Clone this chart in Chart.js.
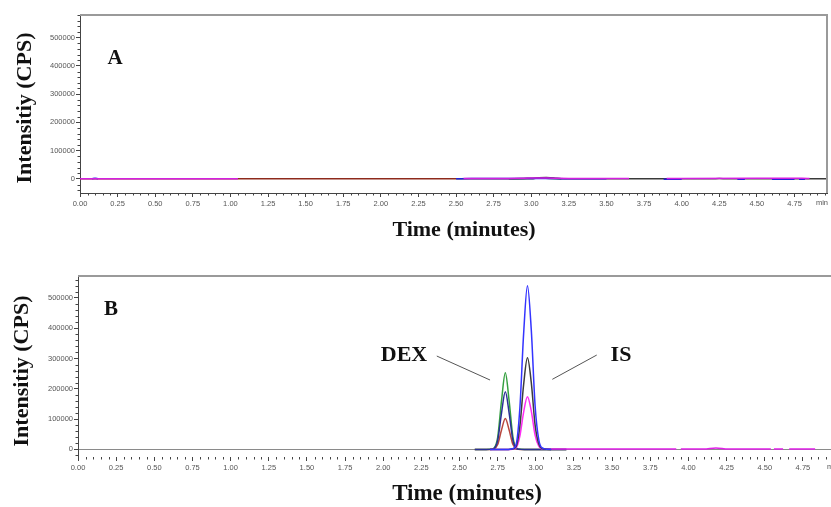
<!DOCTYPE html>
<html>
<head>
<meta charset="utf-8">
<script src="https://cdn.jsdelivr.net/npm/chart.js@4.4.1/dist/chart.umd.min.js"></script>
<style>
html, body { margin: 0; padding: 0; background: #fff; }
#wrap { position: relative; width: 831px; height: 507px; overflow: hidden; }
#boxA { position: absolute; left: 0; top: 0; width: 831px; height: 250px; }
#boxB { position: absolute; left: 0; top: 250px; width: 831px; height: 257px; }
</style>
</head>
<body>
<div id="wrap">
  <div id="boxA"><canvas id="chartA" width="831" height="250"></canvas></div>
  <div id="boxB"><canvas id="chartB" width="831" height="257"></canvas></div>
</div>
<script>
// tick labels
var timeTicks = [0, 0.25, 0.5, 0.75, 1, 1.25, 1.5, 1.75, 2, 2.25, 2.5, 2.75, 3, 3.25, 3.5, 3.75, 4, 4.25, 4.5, 4.75];
var intensityTicks = [0, 100000, 200000, 300000, 400000, 500000];

// panel A - blank plasma, everything sits on the baseline
var blankMagentaT = [0.00, 0.10, 0.30, 0.60, 0.90, 1.05, 1.06, 2.55, 2.80, 2.95, 3.05, 3.15, 3.30, 3.45, 3.60, 3.65, 3.66, 3.90, 4.00, 4.50, 4.60, 4.70, 4.80, 4.85];
var blankMagentaY = [0, 500, 0, 300, 200, 0, null, 1500, 1500, 2500, 3500, 2500, 1500, 1500, 1500, 1500, null, 1500, 1500, 1800, 2000, 2000, 1800, 1500];
var blankBlueT = [0.08, 0.10, 0.12, 0.13, 2.50, 2.60, 2.80, 3.00, 3.10, 3.30, 3.50, 3.51, 3.88, 3.95, 4.00, 4.01, 4.37, 4.42, 4.43, 4.60, 4.70, 4.75, 4.76, 4.78, 4.82];
var blankBlueY = [0, 2500, 0, null, 0, 1000, 1200, 1500, 1000, 800, 500, null, -1000, -1500, -1000, null, -1000, -1000, null, -1200, -1500, -1200, null, -1500, -1500];
var blankGreenT = [2.85, 2.95, 3.00, 3.05, 3.12, 3.20];
var blankGreenY = [0, 1500, 2500, 3000, 1500, 0];
var blankBlackT = [2.50, 3.00, 3.05, 3.10, 3.15, 3.20, 4.20, 4.25, 4.30, 4.85, 4.966];
var blankBlackY = [0, 500, 4000, 5000, 3500, 500, 0, 1500, 0, 0, 0];
var blankBrownT = [0.00, 0.04, 0.28, 0.30, 0.87, 0.92, 1.05, 1.50, 2.00, 2.50];
var blankBrownY = [0, 300, 600, 0, 700, 400, 0, 300, 200, 300];

// panel B - DEX and IS peaks
var dexT = [2.60, 2.675, 2.70, 2.725, 2.75, 2.775, 2.80, 2.825, 2.85, 2.875, 2.90, 2.925, 3.00, 3.20];
var dexGreenY = [0, 0, 200, 4000, 40000, 160000, 253000, 160000, 40000, 4000, 200, 0, 0, 0];
var dexBlueY = [0, 0, 150, 3000, 30000, 120000, 190000, 120000, 30000, 3000, 150, 0, 0, 0];
var dexRedY = [0, 0, 80, 1600, 16000, 64000, 102000, 64000, 16000, 1600, 80, 0, 0, 0];
var isT = [2.70, 2.82, 2.845, 2.87, 2.895, 2.92, 2.945, 2.97, 2.995, 3.02, 3.045, 3.07, 3.10];
var isBlueY = [0, 100, 2100, 15000, 134000, 382000, 540000, 395000, 145000, 30000, 4000, 800, 0];
var isBlackY = [0, 60, 1200, 8400, 75000, 214000, 302000, 221000, 81000, 17000, 2200, 450, 0];
var isMagentaY = [0, 30, 700, 4800, 43000, 123000, 174000, 127000, 47000, 9700, 1300, 800, 1500];
var tailMagentaT = [3.10, 3.50, 3.92, 3.93, 3.95, 4.10, 4.18, 4.26, 4.40, 4.54, 4.55, 4.56, 4.62, 4.63, 4.66, 4.83];
var tailMagentaY = [1500, 1500, 1500, null, 1500, 1500, 5000, 1500, 1500, 1500, null, 1500, 1500, null, 1500, 1500];

function pts(ts, vs) {
    return ts.map(function (t, i) { return {x: t, y: vs[i]}; });
}
function series(ts, vs, color) {
    return {
        data: pts(ts, vs),
        borderColor: color,
        borderWidth: 1.5,
        pointRadius: 0,
        fill: false,
        spanGaps: false,
        cubicInterpolationMode: 'monotone'
    };
}

var serif = '"Liberation Serif", "Times New Roman", serif';
var sans = '"Liberation Sans", Arial, sans-serif';

var decorPlugin = {
    id: 'decor',
    afterDraw: function (chart, args, opts) {
        var ctx = chart.ctx, area = chart.chartArea;
        var xs = chart.scales.x, ys = chart.scales.y;
        ctx.save();
        // grey frame on top (and right when it is inside the picture)
        ctx.strokeStyle = '#9a9a9a';
        ctx.lineWidth = 2;
        ctx.beginPath();
        ctx.moveTo(area.left, area.top);
        ctx.lineTo(area.right, area.top);
        if (opts.frameRight) ctx.lineTo(area.right, area.bottom);
        ctx.stroke();
        // minor ticks
        ctx.strokeStyle = '#444';
        ctx.lineWidth = 1;
        ctx.beginPath();
        for (var k = 1; k * 0.05 < xs.max; k++) {
            if (k % 5 === 0) continue;
            var px = Math.round(xs.getPixelForValue(k * 0.05)) + 0.5;
            ctx.moveTo(px, xs.top);
            ctx.lineTo(px, xs.top + 2.5);
        }
        for (var v = Math.ceil(ys.min / 20000) * 20000; v <= ys.max; v += 20000) {
            if (v % 100000 === 0) continue;
            var py = Math.round(ys.getPixelForValue(v)) + 0.5;
            ctx.moveTo(ys.right, py);
            ctx.lineTo(ys.right - 2.5, py);
        }
        ctx.stroke();
        // unit at the end of the time axis
        ctx.fillStyle = '#555';
        ctx.font = '7.5px ' + sans;
        ctx.textAlign = 'center';
        ctx.textBaseline = 'top';
        ctx.fillText('min', area.right + opts.unitShift, xs.top + 6);
        // titles and panel letters
        ctx.fillStyle = '#111';
        ctx.textBaseline = 'middle';
        (opts.texts || []).forEach(function (t) {
            ctx.save();
            ctx.font = 'bold ' + t.size + 'px ' + serif;
            ctx.translate(t.x, t.y);
            if (t.rotate) ctx.rotate(t.rotate);
            ctx.fillText(t.text, 0, 0);
            ctx.restore();
        });
        // peak labels with pointer lines, placed in data units
        (opts.notes || []).forEach(function (n) {
            ctx.font = 'bold 22px ' + serif;
            ctx.fillText(n.text, xs.getPixelForValue(n.at[0]), ys.getPixelForValue(n.at[1]));
            ctx.strokeStyle = '#555';
            ctx.lineWidth = 1;
            ctx.beginPath();
            ctx.moveTo(xs.getPixelForValue(n.from[0]), ys.getPixelForValue(n.from[1]));
            ctx.lineTo(xs.getPixelForValue(n.to[0]), ys.getPixelForValue(n.to[1]));
            ctx.stroke();
        });
        ctx.restore();
    }
};

function makeOptions(p) {
    return {
        responsive: false,
        animation: false,
        layout: {padding: {top: p.top, right: p.right, left: 0, bottom: 0}},
        plugins: {
            legend: {display: false},
            tooltip: {enabled: false},
            decor: {texts: p.texts, notes: p.notes || [], frameRight: p.frameRight, unitShift: p.unitShift}
        },
        scales: {
            x: {
                type: 'linear',
                min: 0,
                max: p.xMax,
                afterBuildTicks: function (s) { s.ticks = timeTicks.map(function (t) { return {value: t}; }); },
                afterFit: function (s) { s.height = p.xHeight; s.paddingLeft = 0; s.paddingRight = 0; },
                ticks: {
                    autoSkip: false, maxRotation: 0, padding: 2,
                    color: '#555', font: {family: sans, size: 7.5},
                    callback: function (v) { return Number(v).toFixed(2); }
                },
                grid: {drawOnChartArea: false, tickLength: 4, tickColor: '#444'},
                border: {display: p.xBorder, color: '#444', width: 1}
            },
            y: {
                min: p.yMin,
                max: p.yMax,
                afterBuildTicks: function (s) { s.ticks = intensityTicks.map(function (v) { return {value: v}; }); },
                afterFit: function (s) { s.width = p.yWidth; s.paddingTop = 0; s.paddingBottom = 0; },
                ticks: {
                    padding: 1,
                    color: '#555', font: {family: sans, size: 7.5},
                    callback: function (v) { return String(v); }
                },
                grid: {
                    tickLength: 4,
                    tickColor: '#444',
                    color: function (c) { return c.tick && c.tick.value === 0 ? '#8a8a8a' : 'rgba(0,0,0,0)'; }
                },
                border: {display: true, color: '#444', width: 1}
            }
        }
    };
}

new Chart(document.getElementById('chartA'), {
    type: 'line',
    data: {
        datasets: [
            series(blankMagentaT, blankMagentaY, '#d41fe0'),
            series(blankBlueT, blankBlueY, '#2424d8'),
            series(blankBlackT, blankBlackY, '#3a3a3a'),
            series(blankGreenT, blankGreenY, '#1d6b2a'),
            series(blankBrownT, blankBrownY, '#8e2a1c')
        ]
    },
    options: makeOptions({
        top: 15, right: 4, xHeight: 57, yWidth: 80, yMin: -50000, yMax: 580000, xMax: 4.966,
        xBorder: true, frameRight: true, unitShift: -5,
        texts: [
            {text: 'Intensitiy (CPS)', x: 25, y: 108, size: 22, rotate: -Math.PI / 2},
            {text: 'Time (minutes)', x: 464, y: 230, size: 22},
            {text: 'A', x: 115, y: 59, size: 21}
        ]
    }),
    plugins: [decorPlugin]
});

new Chart(document.getElementById('chartB'), {
    type: 'line',
    data: {
        datasets: [
            series(isT, isBlueY, '#3434ff'),
            series(isT, isBlackY, '#3c3c3c'),
            series(isT, isMagentaY, '#ff2cf4'),
            series(tailMagentaT, tailMagentaY, '#e020e8'),
            series(dexT, dexBlueY, '#2a2f96'),
            series(dexT, dexGreenY, '#35a040'),
            series(dexT, dexRedY, '#b8473f')
        ]
    },
    options: makeOptions({
        top: 26, right: 0, xHeight: 50, yWidth: 78, yMin: -25000, yMax: 572000, xMax: 4.934,
        xBorder: false, frameRight: false, unitShift: 2,
        texts: [
            {text: 'Intensitiy (CPS)', x: 22, y: 121, size: 22, rotate: -Math.PI / 2},
            {text: 'Time (minutes)', x: 467, y: 244, size: 23},
            {text: 'B', x: 111, y: 60, size: 21}
        ],
        notes: [
            {text: 'DEX', at: [2.136, 311300], from: [2.351, 308000], to: [2.700, 228900]},
            {text: 'IS', at: [3.558, 311300], from: [3.399, 311300], to: [3.108, 231200]}
        ]
    }),
    plugins: [decorPlugin]
});
</script>
</body>
</html>
